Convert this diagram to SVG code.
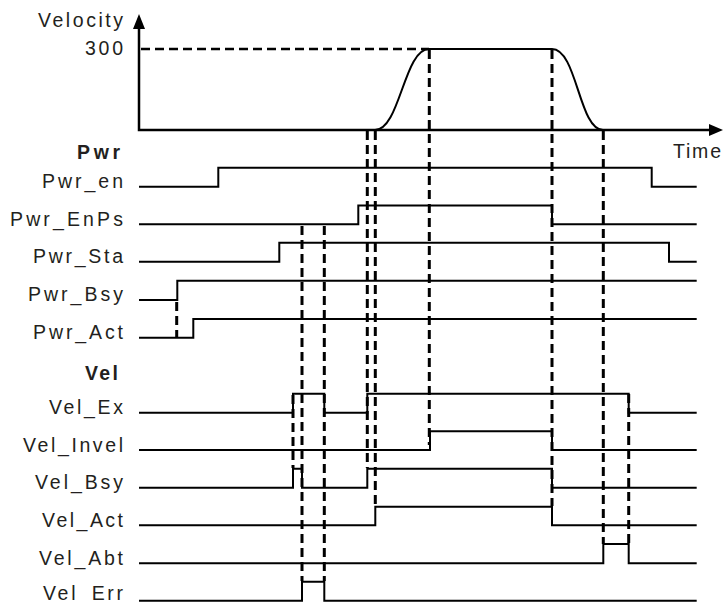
<svg xmlns="http://www.w3.org/2000/svg" width="723" height="602" viewBox="0 0 723 602">
<style>
text{font-family:"Liberation Sans",Arial,sans-serif;font-size:19.5px;fill:#231f20}
.b{font-weight:bold}
.sig{fill:none;stroke:#000;stroke-width:2;stroke-linejoin:miter}
.ax{fill:none;stroke:#000;stroke-width:2.5}
.dv{fill:none;stroke:#000;stroke-width:3;stroke-dasharray:9 5}
.dh{fill:none;stroke:#000;stroke-width:2.5;stroke-dasharray:9 5}
.crv{fill:none;stroke:#000;stroke-width:2}
</style>
<rect width="723" height="602" fill="#fff"/>
<g id="velocity-chart">
  <text x="38" y="27" textLength="85" lengthAdjust="spacing">Velocity</text>
  <text x="85" y="55" textLength="38" lengthAdjust="spacing">300</text>
  <path class="ax" d="M139,26 V130 H712"/>
  <polygon points="139,14 133,29 145,29" fill="#000"/>
  <polygon points="723,130 709,124 709,136" fill="#000"/>
  <text x="673" y="158" textLength="48" lengthAdjust="spacing">Time</text>
  <path class="dh" d="M141,49 H429"/>
  <path class="crv" d="M375,130 C400,130 404,49 429,49 H552 C577,49 579,130 603,130"/>
</g>
<g id="pwr-title"><text class="b" x="77" y="159" textLength="43" lengthAdjust="spacing">Pwr</text></g>
<g id="Pwr_en"><text x="42" y="188" textLength="81" lengthAdjust="spacing">Pwr_en</text>
<path class="sig" d="M139,186.7 H218.3 V167.7 H651.7 V186.7 H696.7"/></g>
<g id="Pwr_EnPs"><text x="10" y="225.5" textLength="113" lengthAdjust="spacing">Pwr_EnPs</text>
<path class="sig" d="M139,224.3 H358.3 V205.5 H552 V224.3 H696.7"/></g>
<g id="Pwr_Sta"><text x="33" y="263" textLength="90" lengthAdjust="spacing">Pwr_Sta</text>
<path class="sig" d="M139,261.7 H279.3 V242.7 H669 V261.7 H696.7"/></g>
<g id="Pwr_Bsy"><text x="28" y="301" textLength="95" lengthAdjust="spacing">Pwr_Bsy</text>
<path class="sig" d="M139,300 H177.3 V280.7 H696.7"/></g>
<g id="Pwr_Act"><text x="33" y="339" textLength="90" lengthAdjust="spacing">Pwr_Act</text>
<path class="sig" d="M139,337.7 H193.3 V319 H696.7"/></g>
<g id="vel-title"><text class="b" x="85" y="380" textLength="33" lengthAdjust="spacing">Vel</text></g>
<g id="Vel_Ex"><text x="49" y="414" textLength="74" lengthAdjust="spacing">Vel_Ex</text>
<path class="sig" d="M139,412.7 H293 V393.7 H324.3 V412.7 H367.3 V393.7 H628.7 V412.7 H696.7"/></g>
<g id="Vel_Invel"><text x="23" y="451.5" textLength="100" lengthAdjust="spacing">Vel_Invel</text>
<path class="sig" d="M139,450 H430 V431.3 H552 V450 H696.7"/></g>
<g id="Vel_Bsy"><text x="35" y="489" textLength="88" lengthAdjust="spacing">Vel_Bsy</text>
<path class="sig" d="M139,487.7 H293 V468.7 H302 V487.7 H367.3 V468.7 H552 V487.7 H696.7"/></g>
<g id="Vel_Act"><text x="42" y="526.5" textLength="81" lengthAdjust="spacing">Vel_Act</text>
<path class="sig" d="M139,525.3 H375.3 V506.7 H552 V525.3 H696.7"/></g>
<g id="Vel_Abt"><text x="39" y="564.5" textLength="84" lengthAdjust="spacing">Vel_Abt</text>
<path class="sig" d="M139,563.3 H603.3 V544 H628.7 V563.3 H696.7"/></g>
<g id="Vel_Err"><text x="43" y="600" textLength="80" lengthAdjust="spacing">Vel_Err</text>
<path class="sig" d="M139,600.7 H302 V581.7 H324.3 V600.7 H696.7"/></g>
<g id="connectors">
  <path class="dv" d="M176.7,302 V337"/>
  <path class="dv" d="M293,395 V468"/>
  <path class="dv" d="M302,226 V581"/>
  <path class="dv" d="M324.3,226 V581"/>
  <path class="dv" d="M367.3,131 V468"/>
  <path class="dv" d="M375.3,131 V506"/>
  <path class="dv" d="M429.3,50 V445"/>
  <path class="dv" d="M552,50 V506"/>
  <path class="dv" d="M603.3,131 V544"/>
  <path class="dv" d="M628.7,394 V544"/>
</g>
</svg>
